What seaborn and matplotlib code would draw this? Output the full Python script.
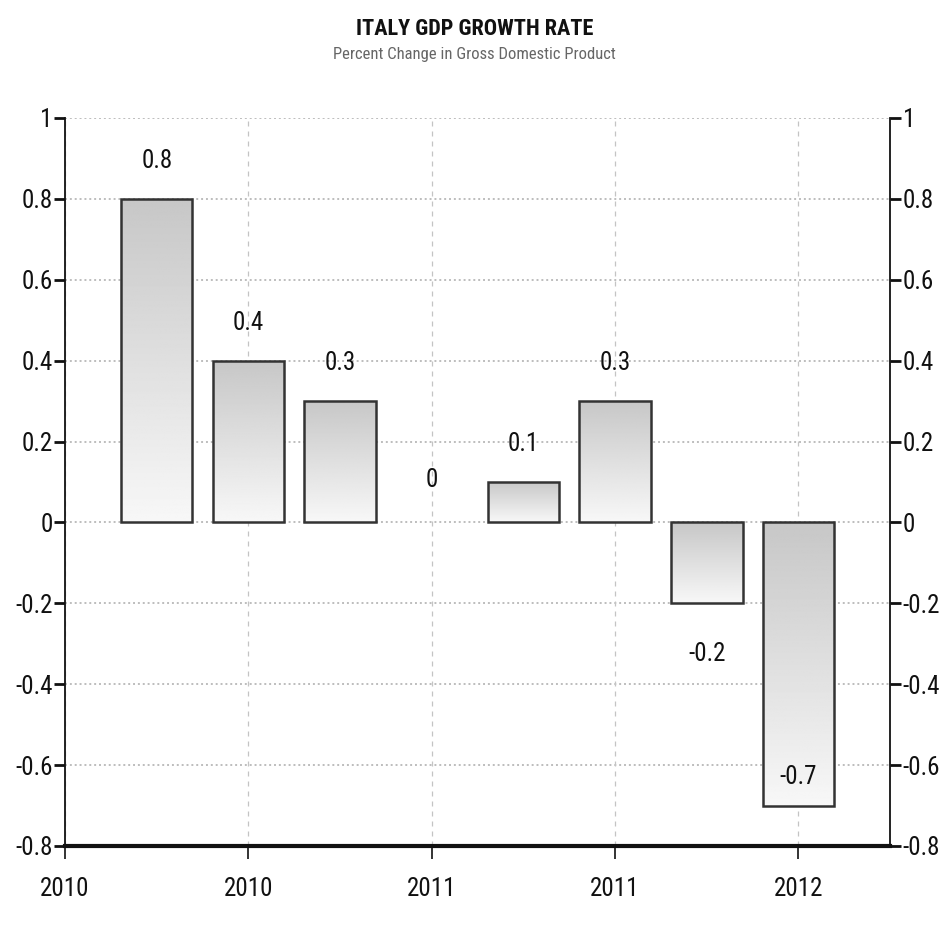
import numpy as np
import pandas as pd
import matplotlib
matplotlib.use("Agg")
import matplotlib.pyplot as plt
import seaborn as sns
from matplotlib import font_manager

# Quarterly GDP growth, percent change
periods = ["Q2 2010", "Q3 2010", "Q4 2010", "Q1 2011",
           "Q2 2011", "Q3 2011", "Q4 2011", "Q1 2012"]
growth = [0.8, 0.4, 0.3, 0.0, 0.1, 0.3, -0.2, -0.7]
label_text = ["0.8", "0.4", "0.3", "0", "0.1", "0.3", "-0.2", "-0.7"]

xtick_pos = [-1, 1, 3, 5, 7]
xtick_labels = ["2010", "2010", "2011", "2011", "2012"]
ytick_vals = [-0.8, -0.6, -0.4, -0.2, 0, 0.2, 0.4, 0.6, 0.8, 1]
ytick_labels = ["-0.8", "-0.6", "-0.4", "-0.2", "0", "0.2", "0.4", "0.6", "0.8", "1"]

sns.set_theme(style="white")
installed = {f.name for f in font_manager.fontManager.ttflist}
families = [f for f in ["Roboto Condensed", "Liberation Sans Narrow", "Liberation Sans"]
            if f in installed] + ["DejaVu Sans"]
plt.rcParams["font.family"] = families

df = pd.DataFrame({"period": periods, "growth": growth})

fig = plt.figure(figsize=(9.49, 9.26), dpi=100)
ax = fig.add_axes([0.0685, 0.0864, 0.8695, 0.7862])

sns.barplot(data=df, x="period", y="growth", order=periods, ax=ax,
            color="#dddddd", edgecolor="#333333", linewidth=1.8,
            width=0.78, zorder=3)

xlim = (-1, 8)
ylim = (-0.8, 1.0)

# vertical gradient fill clipped to each bar
grad = np.linspace(0.78, 0.97, 256).reshape(-1, 1)
for p in ax.patches:
    x0, y0 = p.get_x(), p.get_y()
    w, h = p.get_width(), p.get_height()
    if abs(h) < 1e-9:
        p.set_visible(False)
        continue
    lo, hi = min(y0, y0 + h), max(y0, y0 + h)
    im = ax.imshow(grad, cmap="gray", vmin=0, vmax=1, aspect="auto",
                   extent=[x0, x0 + w, lo, hi], origin="upper", zorder=3.5)
    im.set_clip_path(p)
    p.set_facecolor("none")
    p.set_zorder(4)

ax.set_xlim(*xlim)
ax.set_ylim(*ylim)

# grid
for yv in ytick_vals[1:]:
    ax.axhline(yv, color="#bdbdbd", linestyle=(0, (1, 1.5)), linewidth=1.4, zorder=1)
for xv in xtick_pos:
    ax.axvline(xv, color="#c4c4c4", linestyle=(0, (4, 4)), linewidth=0.9, zorder=1)

# value labels
for i, (v, t) in enumerate(zip(growth, label_text)):
    if v > 0:
        yl = v + 0.093
    elif v == 0:
        yl = 0.105
    else:
        yl = v - 0.125
        if yl < -0.75:
            yl = v + 0.07
    ax.text(i, yl, t, ha="center", va="center", fontsize=18, color="#111111", zorder=6)

ax.set_xticks(xtick_pos)
ax.set_xticklabels(xtick_labels, fontsize=18, color="#111111")
ax.set_yticks(ytick_vals)
ax.set_yticklabels(ytick_labels, fontsize=18, color="#111111")
ax.tick_params(axis="y", which="both", left=True, right=True, labelleft=True,
               labelright=True, direction="out", length=8, width=2,
               color="#111111", pad=1)
ax.tick_params(axis="x", bottom=True, direction="out", length=9, width=1.2,
               color="#111111", pad=13)
ax.set_xlabel("")
ax.set_ylabel("")

for side in ["left", "right"]:
    ax.spines[side].set_visible(True)
    ax.spines[side].set_color("#111111")
    ax.spines[side].set_linewidth(1.3)
ax.spines["top"].set_visible(False)
ax.spines["bottom"].set_color("#111111")
ax.spines["bottom"].set_linewidth(3)

fig.text(0.5, 0.969, "ITALY GDP GROWTH RATE", ha="center", va="center",
         fontsize=16, fontweight="semibold", color="#111111")
fig.text(0.5, 0.941, "Percent Change in Gross Domestic Product", ha="center",
         va="center", fontsize=12, color="#666666")

fig.savefig("out.png", dpi=100, facecolor="white")
